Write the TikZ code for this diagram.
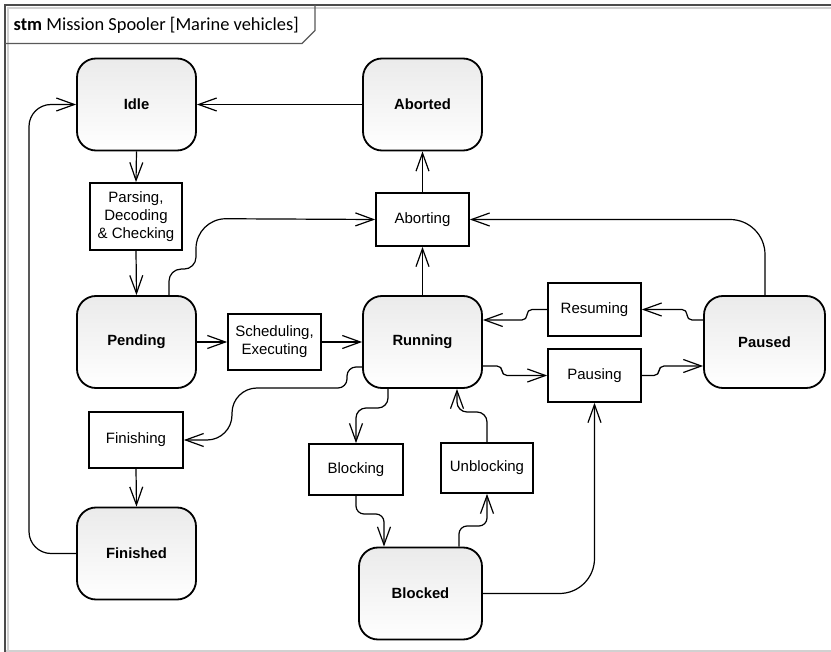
\documentclass[tikz,border=0pt]{standalone}
\usepackage{fontspec}
\setmainfont{Liberation Sans}
\newfontfamily\titlefont{Carlito}
\usetikzlibrary{arrows.meta}
\begin{document}
\begin{tikzpicture}[x=1pt,y=-1pt,
  statebox/.style={draw=black, line width=1.8pt, rounded corners=19pt,
    top color=black!8, bottom color=white,
    minimum width=119pt, minimum height=92pt, inner sep=0pt,
    font=\fontsize{14.8}{18}\selectfont\bfseries},
  actbox/.style={draw=black, line width=1.7pt, fill=white,
    minimum width=93pt, minimum height=53pt, inner sep=0pt, align=center,
    font=\fontsize{15}{18}\selectfont},
  conn/.style={line width=1.2pt, -{Straight Barb[length=18pt,width=13pt]}},
  framedark/.style={draw=black!70, line width=2pt},
  framelight/.style={draw=black!18, line width=1.2pt}
]
\useasboundingbox[fill=white] (0,0) rectangle (831,652);

% diagram frame and name tab
\draw[framelight] (831,8) -- (8,8) -- (8,651);
\draw[framelight] (5,651) -- (831,651);
\draw[framedark] (831,5) -- (5,5) -- (5,652);
\draw[draw=black!65, line width=1.4pt] (5,43.5) -- (302,43.5) -- (315,30.5) -- (315,5);
\node[anchor=base west, inner sep=0pt, font=\titlefont\fontsize{18.4}{20}\selectfont]
  (title) at (13.5,31) {\textbf{stm} Mission Spooler [Marine vehicles]};

% states
\node[statebox] (idle)     at (136.5,104.5) {Idle};
\node[statebox] (aborted)  at (422.5,104.5) {Aborted};
\node[statebox] (pending)  at (136.5,342)   {Pending};
\node[statebox] (running)  at (422.5,342)   {Running};
\node[statebox, minimum width=121pt] (paused) at (764.5,342) {Paused};
\node[statebox] (finished) at (136.5,553.5) {Finished};
\node[statebox, minimum width=123pt] (blocked) at (420.5,593.5) {Blocked};

% activities
\node[actbox, minimum width=92pt, minimum height=67pt] (parsing) at (136,216.5) {Parsing,\\Decoding\\\& Checking};
\node[actbox] (aborting)   at (422.5,219.5) {Aborting};
\node[actbox, minimum height=56pt] (scheduling) at (274.5,342) {Scheduling,\\Executing};
\node[actbox] (resuming)   at (594.5,309.5) {Resuming};
\node[actbox] (pausing)    at (594.5,375.5) {Pausing};
\node[actbox, minimum width=94pt, minimum height=56pt] (finishing) at (136,440) {Finishing};
\node[actbox, minimum width=94pt, minimum height=51pt] (blocking) at (356,469.5) {Blocking};
\node[actbox, minimum width=92pt, minimum height=50pt] (unblocking) at (487,468) {Unblocking};

% transitions
\draw[conn] (aborted.west) -- (idle.east);
\draw[conn] (idle.south) -- (parsing.north);
\draw[conn] (parsing.south) -- (pending.north);
\draw[conn] ([xshift=32.5pt]pending.north) [rounded corners=12pt] -- ++(0,-26) -- ++(27,0)
  [rounded corners=30pt] -- ++(0,-50.5) -- (aborting.west);
\draw[conn] (pending.east) -- (scheduling.west);
\draw[conn] (scheduling.east) -- (running.west);
\draw[conn] (running.north) -- (aborting.south);
\draw[conn] (aborting.north) -- (aborted.south);
\draw[conn, rounded corners=35pt] ([xshift=0.5pt]paused.north) |- (aborting.east);
\draw[conn, rounded corners=5pt] ([yshift=22pt]paused.west) -- (687,320) -- (687,309.5) -- (resuming.east);
\draw[conn, rounded corners=5pt] (resuming.west) -- (527,309.5) -- (527,320) -- ([yshift=22pt]running.east);
\draw[conn, rounded corners=5pt] ([yshift=-24pt]running.east) -- (502,366) -- (502,375.5) -- (pausing.west);
\draw[conn, rounded corners=5pt] (pausing.east) -- (659,375.5) -- (659,366) -- ([yshift=-24pt]paused.west);
\draw[conn] ([yshift=-25pt]running.west) [rounded corners=9pt] -- (347,367) -- (347,388)
  [rounded corners=25pt] -- (232,388) -- (232,440) -- (finishing.east);
\draw[conn] (finishing.south) -- (finished.north);
\draw[conn, rounded corners=22pt] (finished.west) -- (29,553.5) -- (29,104.5) -- (idle.west);
\draw[conn, rounded corners=10pt] ([xshift=-34.5pt]running.south) -- (388,408) -- (356,408) -- (blocking.north);
\draw[conn, rounded corners=10pt] (unblocking.north) -- (487,412) -- (457,412) -- ([xshift=34.5pt]running.south);
\draw[conn, rounded corners=8pt] (blocking.south) -- (356,514) -- (384,514) -- ([xshift=-36.5pt]blocked.north);
\draw[conn, rounded corners=8pt] ([xshift=38.5pt]blocked.north) -- (459,526) -- (487,526) -- (unblocking.south);
\draw[conn, rounded corners=35pt] (blocked.east) -| (pausing.south);
\end{tikzpicture}
\end{document}
